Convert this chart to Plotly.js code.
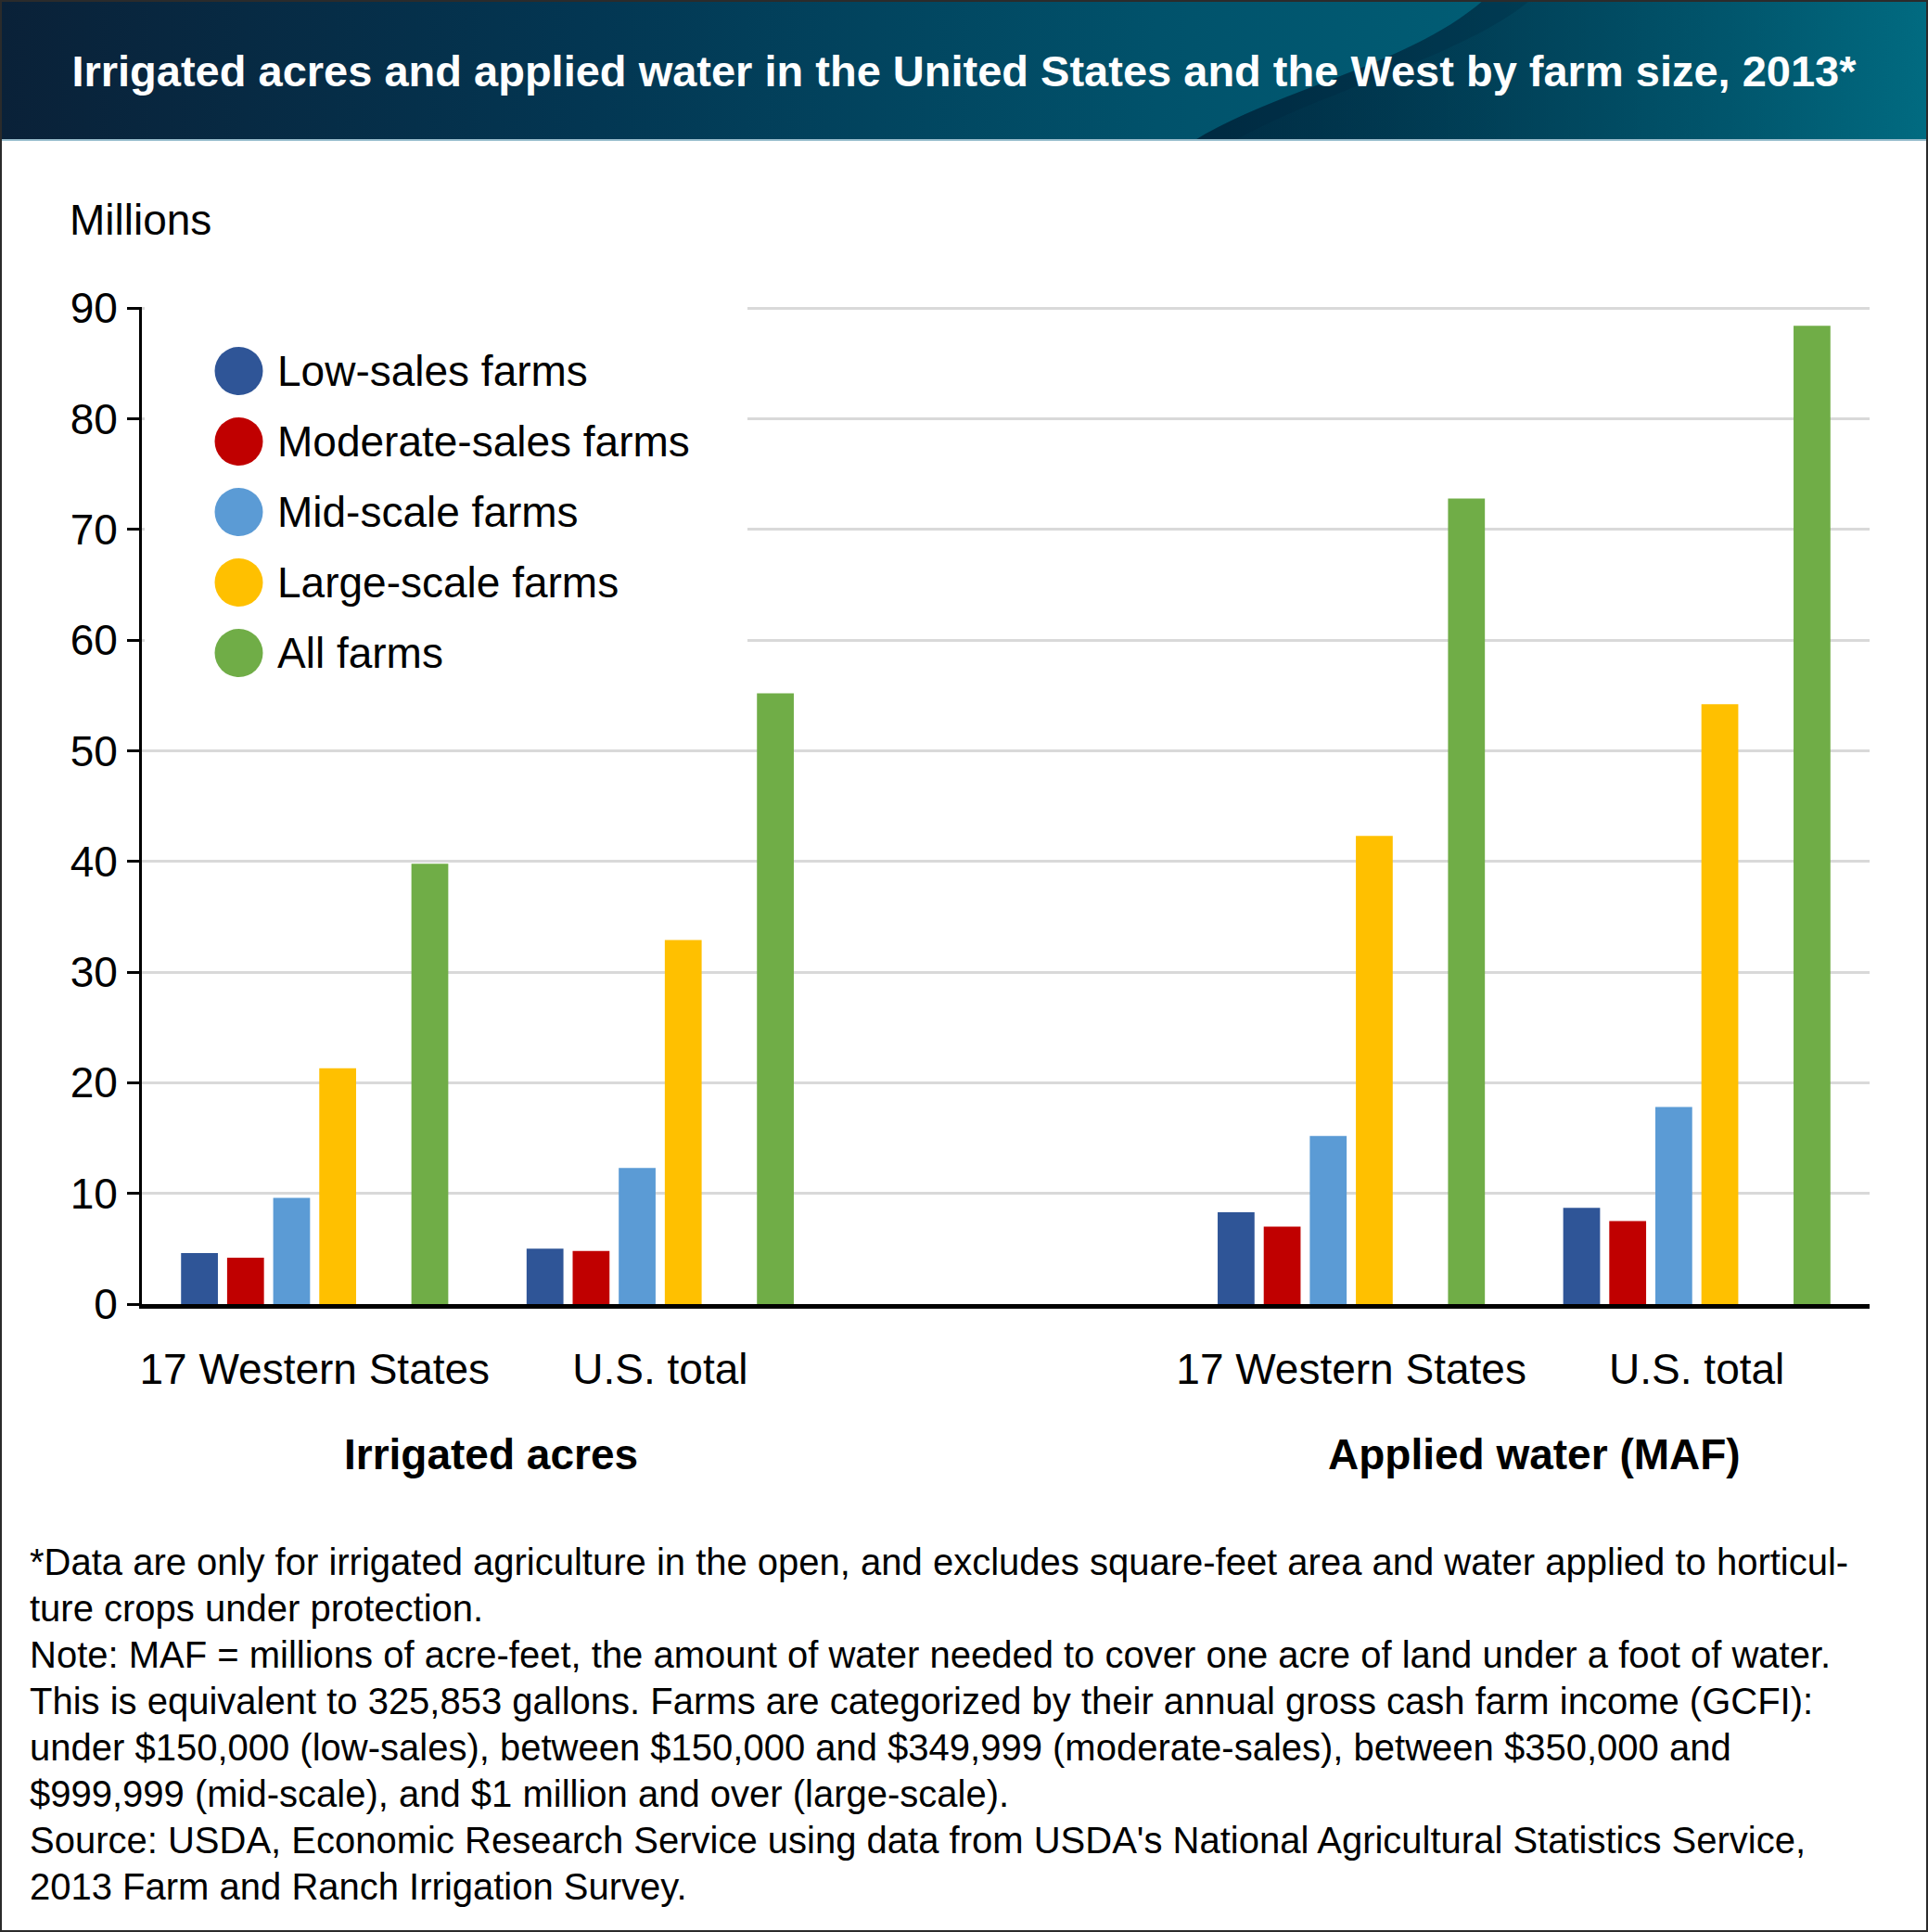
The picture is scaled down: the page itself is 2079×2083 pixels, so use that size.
<!DOCTYPE html>
<html>
<head>
<meta charset="utf-8">
<script src="https://cdn.plot.ly/plotly-3.0.1.min.js"></script>
<style>
  body { margin: 0; background: #fff; }
  #chart { width: 2079px; height: 2083px; }
  #frame { position: absolute; left: 0; top: 0; width: 2079px; height: 2083px;
           box-sizing: border-box; border: 2px solid #2b2b2b; pointer-events: none; }
</style>
</head>
<body>
<div id="chart"></div>
<div id="frame"></div>
<script>
// values in millions (acres / acre-feet), order: acres-West, acres-US, water-West, water-US
const categories = ["17 Western States", "U.S. total"];
const measures = ["Irrigated acres", "Applied water (MAF)"];
const seriesNames = ["Low-sales farms", "Moderate-sales farms", "Mid-scale farms", "Large-scale farms", "All farms"];
const seriesColors = ["#2F5597", "#C00000", "#5B9BD5", "#FFC000", "#70AD47"];

const lowSales = [4.6, 5.0, 8.3, 8.7];
const moderateSales = [4.2, 4.8, 7.0, 7.5];
const midScale = [9.6, 12.3, 15.2, 17.8];
const largeScale = [21.3, 32.9, 42.3, 54.2];
const allFarms = [39.8, 55.2, 72.8, 88.4];

const yTicks = [0, 10, 20, 30, 40, 50, 60, 70, 80, 90];

const footnoteLines = [
  "*Data are only for irrigated agriculture in the open, and excludes square-feet area and water applied to horticul-",
  "ture crops under protection.",
  "Note: MAF = millions of acre-feet, the amount of water needed to cover one acre of land under a foot of water.",
  "This is equivalent to 325,853 gallons. Farms are categorized by their annual gross cash farm income (GCFI):",
  "under $150,000 (low-sales), between $150,000 and $349,999 (moderate-sales), between $350,000 and",
  "$999,999 (mid-scale), and $1 million and over (large-scale).",
  "Source: USDA, Economic Research Service using data from USDA's National Agricultural Statistics Service,",
  "2013 Farm and Ranch Irrigation Survey.",
];

const FONT = "Liberation Sans, Arial, Helvetica, sans-serif";

// x keys: measure|category, with an empty slot between the two measures
const xKeys = [];
measures.forEach((m) => categories.forEach((c) => xKeys.push(m + "|" + c)));
const catOrder = [xKeys[0], xKeys[1], "gap", xKeys[2], xKeys[3]];

const seriesValues = [lowSales, moderateSales, midScale, largeScale, allFarms];
const traces = [];
seriesValues.forEach((vals, i) => {
  if (i === 4) {
    // empty series slot (leaves the space before "All farms")
    traces.push({ type: "bar", x: xKeys, y: xKeys.map(() => null), showlegend: false, hoverinfo: "skip" });
  }
  traces.push({
    type: "bar",
    name: seriesNames[i],
    x: xKeys,
    y: vals,
    marker: { color: seriesColors[i] },
    showlegend: false,
  });
});

// pixel helpers for the plot area
const W = 2079, H = 2083;
const ml = 153, mr = 63, mt = 331, mb = 677;
const pw = W - ml - mr, ph = H - mt - mb;
const px = (x) => (x - ml) / pw;
const py = (y) => (H - mb - y) / ph;

// banner background (gradient + swoosh)
const bannerSvg =
  '<svg xmlns="http://www.w3.org/2000/svg" width="2079" height="152" viewBox="0 0 2079 152">' +
  '<defs>' +
  '<linearGradient id="g" x1="0" y1="0" x2="1" y2="0">' +
  '<stop offset="0" stop-color="#0a2138"/><stop offset="0.3" stop-color="#033652"/>' +
  '<stop offset="0.6" stop-color="#01526b"/><stop offset="1" stop-color="#016b81"/></linearGradient>' +
  '<linearGradient id="s" gradientUnits="userSpaceOnUse" x1="1290" y1="0" x2="2079" y2="0">' +
  '<stop offset="0" stop-color="#00253c" stop-opacity="0.85"/>' +
  '<stop offset="1" stop-color="#00253c" stop-opacity="0"/></linearGradient>' +
  '</defs>' +
  '<rect width="2079" height="152" fill="url(#g)"/>' +
  '<path d="M1287 152 C1380 95 1520 70 1600 0 L2079 0 L2079 152 Z" fill="url(#s)"/>' +
  '<path d="M1330 152 C1420 100 1580 60 1650 0 L1600 0 C1520 70 1380 95 1287 152 Z" fill="#00253c" opacity="0.25"/>' +
  '<rect y="150" width="2079" height="2" fill="#9cc0cf"/>' +
  "</svg>";
const bannerUri = "data:image/svg+xml;charset=utf-8," + encodeURIComponent(bannerSvg);

const shapes = [
  // white panel behind the legend, hides the grid there
  {
    type: "rect", xref: "paper", yref: "paper", layer: "above",
    x0: px(156), x1: px(806), y0: py(760), y1: 1.02,
    fillcolor: "#ffffff", line: { width: 0 },
  },
];
const annotations = [];

seriesNames.forEach((name, i) => {
  const cy = py(400 + i * 76);
  shapes.push({
    type: "circle", xref: "paper", yref: "paper", layer: "above",
    xsizemode: "pixel", ysizemode: "pixel",
    xanchor: px(257.5), yanchor: cy,
    x0: -26, x1: 26, y0: -26, y1: 26,
    fillcolor: seriesColors[i], line: { width: 0 },
  });
  annotations.push({
    xref: "paper", yref: "paper", x: px(297), y: cy,
    xanchor: "left", yanchor: "middle", showarrow: false,
    text: name, font: { family: FONT, size: 46, color: "#000" },
  });
});

// group labels under the category labels
measures.forEach((m, i) => {
  annotations.push({
    xref: "x", yref: "paper", x: i === 0 ? 0.51 : 3.53, y: py(1568),
    xanchor: "center", yanchor: "middle", showarrow: false,
    text: "<b>" + m + "</b>", font: { family: FONT, size: 46, color: "#000" },
  });
});

annotations.push({
  xref: "paper", yref: "paper", x: px(73), y: py(237),
  xanchor: "left", yanchor: "middle", showarrow: false,
  text: "Millions", font: { family: FONT, size: 46, color: "#000" },
});

footnoteLines.forEach((line, i) => {
  annotations.push({
    xref: "paper", yref: "paper", x: px(30), y: py(1684 + i * 50),
    xanchor: "left", yanchor: "middle", align: "left", showarrow: false,
    text: line, font: { family: FONT, size: 40, color: "#000" },
  });
});

const layout = {
  width: W,
  height: H,
  margin: { l: ml, r: mr, t: mt, b: mb },
  paper_bgcolor: "#ffffff",
  plot_bgcolor: "#ffffff",
  barmode: "group",
  bargap: 0.2,
  bargroupgap: 0.2,
  showlegend: false,
  title: {
    text: "<b>Irrigated acres and applied water in the United States and the West by farm size, 2013*</b>",
    x: 0.5, xref: "container", xanchor: "center",
    y: 1 - 77 / H, yref: "container", yanchor: "middle",
    font: { family: FONT, size: 47, color: "#ffffff" },
  },
  xaxis: {
    type: "category",
    categoryorder: "array",
    categoryarray: catOrder,
    tickvals: xKeys,
    ticktext: xKeys.map((k) => k.split("|")[1]),
    range: [-0.5, 4.5],
    showgrid: false,
    showline: true,
    linecolor: "#000",
    linewidth: 5,
    ticks: "",
    ticklabelstandoff: 26,
    tickfont: { family: FONT, size: 46, color: "#000" },
    fixedrange: true,
  },
  yaxis: {
    range: [0, 90.1],
    tickvals: yTicks,
    showgrid: true,
    gridcolor: "#d9d9d9",
    gridwidth: 3,
    zeroline: false,
    showline: true,
    linecolor: "#000",
    linewidth: 3,
    ticks: "outside",
    ticklen: 13,
    tickwidth: 3,
    tickcolor: "#000",
    ticklabelstandoff: 1,
    tickfont: { family: FONT, size: 46, color: "#000" },
    fixedrange: true,
  },
  images: [
    {
      source: bannerUri, xref: "paper", yref: "paper",
      x: px(0), y: py(0), sizex: W / pw, sizey: 152 / ph,
      xanchor: "left", yanchor: "top", sizing: "stretch", layer: "below",
    },
  ],
  shapes: shapes,
  annotations: annotations,
};

Plotly.newPlot("chart", traces, layout, { displayModeBar: false, staticPlot: true });
</script>
</body>
</html>
